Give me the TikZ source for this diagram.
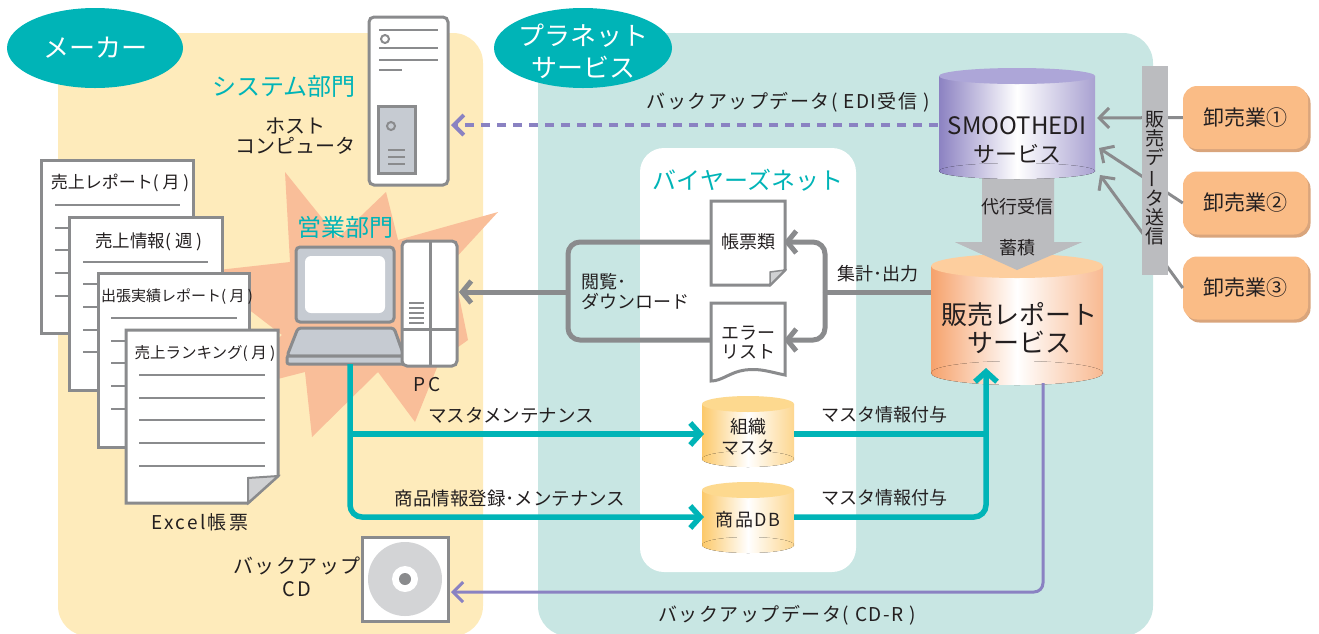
\documentclass[tikz,border=0pt]{standalone}
\usepackage{fontspec}
\setmainfont{Noto Sans CJK JP}
\newfontfamily\widejp[LetterSpace=8]{Noto Sans CJK JP}
\newfontfamily\widerjp[LetterSpace=12]{Noto Sans CJK JP}
\usetikzlibrary{arrows.meta,shapes.geometric,shadows,calc}

\definecolor{makerbg}{HTML}{FEEBBB}
\definecolor{planetbg}{HTML}{C8E6E3}
\definecolor{brandteal}{HTML}{00B4B7}
\definecolor{linegray}{HTML}{8A8B8D}
\definecolor{bargray}{HTML}{BBBCBF}
\definecolor{edipurple}{HTML}{8A82C2}
\definecolor{burst}{HTML}{F9BE99}
\definecolor{wholesale}{HTML}{FABC86}
\definecolor{wholeshadow}{HTML}{D9A57C}
\definecolor{pcgray}{HTML}{C6CBD2}
\definecolor{foldgray}{HTML}{D0D1D3}
\definecolor{discgray}{HTML}{D3D4D6}
\definecolor{ink}{HTML}{231F20}
\definecolor{cylpurple}{HTML}{8C82C2}
\definecolor{cylpurpletop}{HTML}{ADA6D8}
\definecolor{cylorange}{HTML}{F6A26C}
\definecolor{cylorangetop}{HTML}{FDCE9E}
\definecolor{cylyellow}{HTML}{FCC96A}
\definecolor{cylyellowtop}{HTML}{FDD98F}

\newcommand\fsz[2]{\fontsize{#1}{#2}\selectfont}

% cylinder: x-left, x-right, y of top ellipse, y of bottom ellipse, y radius, side colour, top colour
\newcommand\drum[7]{%
  \pgfmathsetmacro\drumcx{(#1+#2)/2}%
  \pgfmathsetmacro\drumrx{(#2-#1)/2}%
  \fill[left color=#6, right color=#6!75, middle color=white] (#1,#3) rectangle (#2,#4);
  \fill[left color=#6, right color=#6!75, middle color=white] (\drumcx,#4) ellipse [x radius=\drumrx, y radius=#5];
  \fill[#7] (\drumcx,#3) ellipse [x radius=\drumrx, y radius=#5];
}

\tikzset{
  txt/.style={inner sep=0pt, text=ink},
  docbox/.style={draw=linegray, line width=3pt, fill=white},
  docrule/.style={draw=linegray, line width=1.6pt},
  grayflow/.style={draw=linegray, line width=5pt},
  grayhead/.style={-{Straight Barb[length=9pt,width=22pt]}},
  tealflow/.style={draw=brandteal, line width=5.5pt},
  tealhead/.style={-{Straight Barb[length=10pt,width=22pt]}},
  purpleflow/.style={draw=edipurple, line width=3pt},
  purplehead/.style={-{Straight Barb[length=10pt,width=20pt]}},
  feedline/.style={draw=linegray, line width=3pt},
  feedhead/.style={-{Straight Barb[length=10pt,width=20pt]}},
  badge/.style={ellipse, fill=brandteal, inner sep=0pt},
  wsbox/.style={rectangle, rounded corners=14pt, fill=wholesale, text=ink,
    minimum width=125pt, minimum height=63pt, inner sep=0pt, font=\fsz{21}{24},
    general shadow={fill=wholeshadow, shadow xshift=2.5pt, shadow yshift=-3pt}},
}

\begin{document}
\begin{tikzpicture}[x=1pt,y=-1pt]
\useasboundingbox (0,0) rectangle (1319,633);

% ---- zones ----
\fill[makerbg, rounded corners=30pt] (58,33) rectangle (483,636);
\fill[planetbg, rounded corners=30pt] (538,33) rectangle (1153,636);
\fill[white, rounded corners=24pt] (640,148) rectangle (856,572);

% ---- zone badges ----
\node[badge, minimum width=176pt, minimum height=80pt, text=white, font=\fsz{26}{30}] (maker) at (95,48) {メーカー};
\node[badge, minimum width=178pt, minimum height=80pt] (planet) at (583,48) {};
\node[inner sep=0pt, text=white, align=center, font=\fsz{26}{32}] (planet-text) at (583,51) {プラネット\\サービス};

\node[txt, text=brandteal, font=\fsz{24}{28}] (sys-dept) at (284,86) {システム部門};
\node[txt, align=center, font=\fsz{20}{20}] (host-label) at (295,136) {ホスト\\コンピュータ};
\node[txt, text=brandteal, font=\fsz{24}{28}] (buyers) at (748,180) {バイヤーズネット};

% ---- burst behind the sales PC ----
\fill[burst] (285,172) -- (338,238) -- (386,192) -- (398,240) -- (498,212) -- (452,262)
  -- (468,340) -- (440,360) -- (415,422) -- (378,372) -- (312,437) -- (305,372)
  -- (215,395) -- (282,335) -- (200,272) -- (290,262) -- cycle;

% ---- stacked Excel sheets ----
\draw[docbox] (41,160) rectangle (193,333);
\foreach \yy in {205,228,250,273,296} \draw[docrule] (55,\yy) -- (180,\yy);
\node[txt, font=\fsz{17}{20}] (sheet-monthly) at (120,183) {売上レポート( 月 )};

\draw[docbox] (69,217) rectangle (222,390);
\foreach \yy in {262,284,307,330,352} \draw[docrule] (83,\yy) -- (208,\yy);
\node[txt, font=\fsz{17.5}{20}] (sheet-weekly) at (149,242) {売上情報( 週 )};

\draw[docbox] (98,273) rectangle (249,447);
\foreach \yy in {318,341,363,386,409} \draw[docrule] (111,\yy) -- (237,\yy);
\node[txt, font=\fsz{15}{20}] (sheet-trip) at (177,297) {出張実績レポート( 月 )};

\draw[docbox] (126,330) -- (278,330) -- (278,476) -- (248,503) -- (126,503) -- cycle;
\filldraw[fill=foldgray, draw=linegray, line width=2pt] (278,476) -- (248,478) -- (248,503) -- cycle;
\foreach \yy in {375,398,420,443,466} \draw[docrule] (139,\yy) -- (265,\yy);
\node[txt, font=\fsz{15.5}{20}] (sheet-rank) at (205,353) {売上ランキング( 月 )};

\node[txt, font=\widerjp\fsz{19}{22}] (excel) at (200,522) {Excel帳票};

% ---- host computer ----
\draw[draw=linegray, line width=3pt, fill=white, rounded corners=5pt] (369,17) rectangle (448,185);
\draw[linegray, line width=2.5pt] (379,30) -- (438,30) (379,48) -- (438,48) (379,60) -- (438,60) (379,70) -- (402,70);
\draw[linegray, line width=2pt] (385,39) circle [radius=4];
\draw[linegray, line width=3pt, fill=pcgray] (378,106) rectangle (415,173);
\draw[linegray, line width=2pt] (391,126) circle [radius=4];
\draw[linegray, line width=2pt] (388,150) -- (405,150) (388,157) -- (405,157) (388,164) -- (405,164);
\coordinate (host-e) at (451,125);

% ---- sales PC ----
\node[txt, text=brandteal, font=\fsz{24}{28}] (sales-dept) at (345,227) {営業部門};
\draw[linegray, line width=3pt, fill=pcgray, rounded corners=4pt] (296,247) rectangle (394,322);
\fill[white, rounded corners=6pt] (305,256) rectangle (385,313);
\draw[linegray, line width=3pt, fill=pcgray, rounded corners=3pt] (298,328) -- (394,328) -- (404,356) -- (287,356) -- cycle;
\draw[linegray, line width=3pt, fill=pcgray, rounded corners=2pt] (287,356) rectangle (404,364);
\draw[linegray, line width=3pt, fill=white, rounded corners=5pt] (402,241) rectangle (457,366);
\draw[linegray, line width=3pt] (430,241) -- (430,366) (402,329) -- (457,329);
\draw[linegray, line width=2pt] (409,303) -- (424,303) (409,308) -- (424,308) (409,313) -- (424,313) (409,318) -- (424,318) (409,323) -- (424,323);
\node[txt, font=\widerjp\fsz{19}{22}] (pc-label) at (427,385) {PC};
\coordinate (pc-e) at (459,292);
\coordinate (pc-s) at (350,364);

% ---- backup CD ----
\draw[linegray, line width=3pt, fill=white] (362,537) rectangle (448,621);
\fill[discgray] (405,579) circle [radius=37];
\fill[white] (405,579) circle [radius=13];
\fill[linegray] (405,579) circle [radius=6];
\coordinate (cd-e) at (451,592);
\node[txt, align=center, font=\widejp\fsz{20}{23}] (cd-label) at (297,577) {バックアップ\\CD};

% ---- SMOOTHEDI service ----
\fill[bargray] (982,165) -- (1054,165) -- (1054,242) -- (1082,242) -- (1017,270) -- (955,242) -- (982,242) -- cycle;
\drum{939}{1095}{76}{171}{8}{cylpurple}{cylpurpletop}
\node[txt, font=\fsz{24}{28}] (smooth-name) at (1017,126) {SMOOTHEDI};
\node[txt, font=\fsz{22}{26}] (smooth-svc) at (1017,154) {サービス};
\coordinate (smooth-w) at (938,125);

% ---- sales report service ----
\drum{931}{1103}{266}{373}{12}{cylorange}{cylorangetop}
\fill[bargray] (955,242) -- (1082,242) -- (1017,270) -- cycle;
\node[txt, font=\fsz{18}{22}] (proxy) at (1017,207) {代行受信};
\node[txt, font=\fsz{18}{22}] (store) at (1017,248) {蓄積};
\node[txt, font=\fsz{26}{30}] (hanbai-name) at (1019,315) {販売レポート};
\node[txt, font=\fsz{26}{30}] (hanbai-svc) at (1019,342) {サービス};
\coordinate (hanbai-w) at (931,292);
\coordinate (hanbai-in) at (986,368);
\coordinate (hanbai-out) at (1043,383);

% ---- wholesalers and the send bar ----
\node[wsbox] (ws1) at (1245.5,117.5) {卸売業①};
\node[wsbox] (ws2) at (1245.5,203) {卸売業②};
\node[wsbox] (ws3) at (1245.5,288) {卸売業③};
\coordinate (edi-in1) at (1097,118);
\coordinate (edi-in2) at (1099,148);
\coordinate (edi-in3) at (1100,175);
\draw[feedline, feedhead] (ws1.west) -- (edi-in1);
\draw[feedline, feedhead] (ws2.west) -- (edi-in2);
\draw[feedline, feedhead] (ws3.west) -- (edi-in3);
\fill[bargray] (1142,66) rectangle (1168,275);
\node[txt, align=center, font=\fsz{19}{19}] (send-label) at (1155,178) {販\\売\\デ\\\rotatebox[origin=c]{90}{ー}\\タ\\送\\信};

% ---- EDI backup to host ----
\draw[draw=edipurple, line width=4pt, dash pattern=on 9pt off 7pt, purplehead] (smooth-w) -- (host-e);
\node[txt, font=\widejp\fsz{19}{22}] (edi-backup) at (788,102) {バックアップデータ( EDI受信 )};

% ---- buyers net documents ----
\draw[docbox] (711,201) -- (785,201) -- (785,270) -- (770,285) -- (711,285) -- cycle;
\filldraw[fill=foldgray, draw=linegray, line width=1.5pt] (785,270) -- (770,272) -- (770,285) -- cycle;
\node[txt, font=\fsz{18}{22}] (forms) at (748,242) {帳票類};
\draw[docbox] (711,303) -- (785,303) -- (785,375) .. controls (770,372) and (760,368) .. (745,370)
  .. controls (730,372) and (722,381) .. (711,381) -- cycle;
\node[txt, align=center, font=\fsz{18}{19}] (errors) at (748,343) {エラー\\リスト};
\coordinate (forms-e) at (784,242);
\coordinate (forms-w) at (711,242);
\coordinate (errors-e) at (784,340);
\coordinate (errors-w) at (711,340);

% ---- aggregate / output loop ----
\draw[grayflow] (hanbai-w) -- (825,292);
\draw[grayflow, grayhead, rounded corners=12pt] (825,292) |- (forms-e);
\draw[grayflow, grayhead, rounded corners=12pt] (825,292) |- (errors-e);
\node[txt, font=\fsz{18}{22}] (aggregate) at (878,274) {集計･出力};

\draw[grayflow, rounded corners=12pt] (forms-w) -| (568,292) |- (errors-w);
\draw[grayflow, grayhead] (568,292) -- (pc-e);
\node[txt, anchor=west, align=left, font=\fsz{18}{20}] (browse) at (581,292) {閲覧･\\ダウンロード};

% ---- master data ----
\drum{702}{794}{404}{459}{8}{cylyellow}{cylyellowtop}
\node[txt, align=center, font=\fsz{18}{21}] (org-master) at (748,437) {組織\\マスタ};
\drum{702}{794}{490}{545}{8}{cylyellow}{cylyellowtop}
\node[txt, font=\widejp\fsz{18}{22}] (goods-db) at (748,520) {商品DB};
\coordinate (org-w) at (704,434);
\coordinate (org-e) at (794,434);
\coordinate (goods-w) at (704,517);
\coordinate (goods-e) at (794,517);
\coordinate (pc-branch) at (350,434);

\draw[tealflow, tealhead, rounded corners=12pt] (pc-s) |- (goods-w);
\draw[tealflow, tealhead] (pc-branch) -- (org-w);
\draw[tealflow] (org-e) -- (986,434);
\draw[tealflow, tealhead, rounded corners=12pt] (goods-e) -| (hanbai-in);
\node[txt, font=\fsz{18.5}{22}] (maint) at (511,415) {マスタメンテナンス};
\node[txt, font=\fsz{18.5}{22}] (goods-maint) at (510,498) {商品情報登録･メンテナンス};
\node[txt, font=\fsz{18}{22}] (attach1) at (884,415) {マスタ情報付与};
\node[txt, font=\fsz{18}{22}] (attach2) at (884,498) {マスタ情報付与};

% ---- CD-R backup ----
\draw[purpleflow, purplehead, rounded corners=9pt] (hanbai-out) |- (cd-e);
\node[txt, font=\widejp\fsz{19}{22}] (cdr-backup) at (787,615) {バックアップデータ( CD-R )};

\end{tikzpicture}
\end{document}
